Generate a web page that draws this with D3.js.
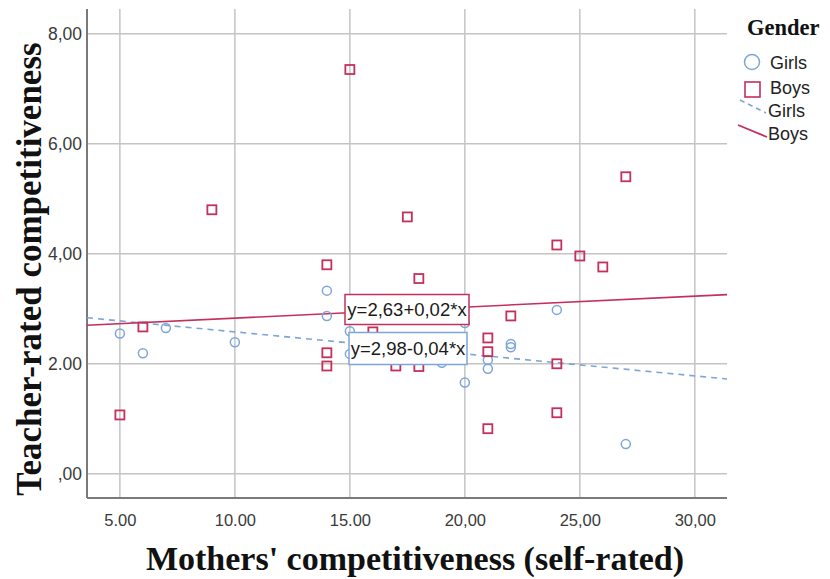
<!DOCTYPE html>
<html>
<head>
<meta charset="utf-8">
<script src="https://cdn.jsdelivr.net/npm/d3@7"></script>
<style>
  html, body { margin: 0; padding: 0; background: #fff; }
  svg { display: block; }
</style>
</head>
<body>
<svg id="chart" width="830" height="579"></svg>
<script>
// Mothers' self-rated competitiveness (x) vs teacher-rated child competitiveness (y)
const girlsX = [5, 6, 7, 10, 14, 14, 15, 15, 19, 20, 20, 21, 21, 22, 22, 24, 27];
const girlsY = [2.55, 2.19, 2.65, 2.39, 3.33, 2.87, 2.59, 2.18, 2.02, 1.66, 2.74, 2.07, 1.91, 2.36, 2.30, 2.98, 0.54];

const boysX = [15, 9, 17.5, 27, 14, 18, 24, 25, 26, 6, 5, 14, 14, 16, 17, 18, 21, 21, 21, 22, 24, 24];
const boysY = [7.35, 4.80, 4.67, 5.40, 3.80, 3.55, 4.16, 3.96, 3.76, 2.67, 1.07, 2.20, 1.96, 2.58, 1.96, 1.95, 2.47, 2.22, 0.82, 2.87, 2.00, 1.11];

// Linear fit lines per group: [intercept, slope]
const girlsFit = [2.98, -0.04];
const boysFit = [2.63, 0.02];
const girlsFitLabel = "y=2,98-0,04*x";
const boysFitLabel = "y=2,63+0,02*x";

const xTickValues = [5, 10, 15, 20, 25, 30];
const xTickLabels = ["5.00", "10.00", "15.00", "20,00", "25,00", "30,00"];
const yTickValues = [0, 2, 4, 6, 8];
const yTickLabels = [",00", "2.00", "4,00", "6,00", "8,00"];

const legendLabels = ["Girls", "Boys", "Girls", "Boys"];

const girlsColor = "#7da5d9";
const boysColor = "#c4305c";

const svg = d3.select("#chart");
const margin = { left: 87, right: 103, top: 9, bottom: 81 };
const W = 830, H = 579;

const x = d3.scaleLinear().domain([3.57, 31.4]).range([margin.left, W - margin.right]);
const y = d3.scaleLinear().domain([-0.44, 8.45]).range([H - margin.bottom, margin.top]);

const gridColor = "#c4c4c4";

// Grid lines
svg.append("g")
  .selectAll("line")
  .data(xTickValues)
  .join("line")
  .attr("x1", d => x(d)).attr("x2", d => x(d))
  .attr("y1", y.range()[1]).attr("y2", y.range()[0])
  .attr("stroke", gridColor).attr("stroke-width", 1.5);

svg.append("g")
  .selectAll("line")
  .data(yTickValues)
  .join("line")
  .attr("x1", x.range()[0]).attr("x2", x.range()[1])
  .attr("y1", d => y(d)).attr("y2", d => y(d))
  .attr("stroke", gridColor).attr("stroke-width", 1.5);

// Axes
const xAxis = svg.append("g")
  .attr("transform", `translate(0,${y.range()[0]})`)
  .call(d3.axisBottom(x).tickValues(xTickValues)
    .tickFormat((d, i) => xTickLabels[i]).tickSize(0).tickPadding(16));
const yAxis = svg.append("g")
  .attr("transform", `translate(${x.range()[0]},0)`)
  .call(d3.axisLeft(y).tickValues(yTickValues)
    .tickFormat((d, i) => yTickLabels[i]).tickSize(0).tickPadding(5));

[xAxis, yAxis].forEach(g => {
  g.select(".domain").attr("stroke", "#7a7a7a").attr("stroke-width", 2);
  g.selectAll("text")
    .attr("font-family", "'Liberation Sans', Arial, sans-serif")
    .attr("fill", "#3a3a3a");
});
xAxis.selectAll("text").attr("font-size", 16.5);
yAxis.selectAll("text").attr("font-size", 17.5);
xAxis.select(".domain").attr("d", `M${x.range()[0]},0H${x.range()[1]}`);
yAxis.select(".domain").attr("d", `M0,${y.range()[0]}V${y.range()[1]}`);

// Fit lines
const xs = x.domain();
const fitLine = (fit) => xs.map(v => [x(v), y(fit[0] + fit[1] * v)]);

svg.append("path")
  .attr("d", d3.line()(fitLine(girlsFit)))
  .attr("fill", "none").attr("stroke", girlsColor)
  .attr("stroke-width", 1.6).attr("stroke-dasharray", "6,5");

svg.append("path")
  .attr("d", d3.line()(fitLine(boysFit)))
  .attr("fill", "none").attr("stroke", boysColor)
  .attr("stroke-width", 1.6);

// Points
const girls = girlsX.map((v, i) => ({ x: v, y: girlsY[i] }));
const boys = boysX.map((v, i) => ({ x: v, y: boysY[i] }));

svg.append("g")
  .selectAll("circle")
  .data(girls)
  .join("circle")
  .attr("cx", d => x(d.x)).attr("cy", d => y(d.y))
  .attr("r", 4.5)
  .attr("fill", "none").attr("stroke", girlsColor).attr("stroke-width", 1.5);

const sq = 9;
svg.append("g")
  .selectAll("rect")
  .data(boys)
  .join("rect")
  .attr("x", d => x(d.x) - sq / 2).attr("y", d => y(d.y) - sq / 2)
  .attr("width", sq).attr("height", sq)
  .attr("fill", "none").attr("stroke", boysColor).attr("stroke-width", 1.8);

// Equation labels
function eqLabel(text, color, left, top, w, h) {
  const g = svg.append("g");
  g.append("rect")
    .attr("x", left).attr("y", top)
    .attr("width", w).attr("height", h)
    .attr("fill", "#fff").attr("stroke", color).attr("stroke-width", 1.5);
  g.append("text")
    .attr("x", left + w / 2).attr("y", top + h / 2 + 6.5)
    .attr("text-anchor", "middle")
    .attr("font-family", "'Liberation Sans', Arial, sans-serif")
    .attr("font-size", 18.5)
    .attr("fill", "#1a1a1a")
    .text(text);
}
eqLabel(boysFitLabel, boysColor, 345, 294.5, 124, 30);
eqLabel(girlsFitLabel, girlsColor, 349, 332.5, 118, 32);

// Legend
const lg = svg.append("g");
lg.append("text")
  .attr("x", 747).attr("y", 35)
  .attr("font-family", "'Liberation Serif', 'Times New Roman', serif")
  .attr("font-weight", "bold").attr("font-size", 22.5)
  .attr("fill", "#111")
  .text("Gender");

lg.append("circle").attr("cx", 752).attr("cy", 62).attr("r", 7.5)
  .attr("fill", "none").attr("stroke", girlsColor).attr("stroke-width", 1.5);
lg.append("rect").attr("x", 745).attr("y", 82).attr("width", 15).attr("height", 15)
  .attr("fill", "none").attr("stroke", boysColor).attr("stroke-width", 1.6);
lg.append("line").attr("x1", 740).attr("y1", 100).attr("x2", 766).attr("y2", 113)
  .attr("stroke", girlsColor).attr("stroke-width", 1.6).attr("stroke-dasharray", "5,4");
lg.append("line").attr("x1", 738).attr("y1", 125).attr("x2", 767).attr("y2", 137)
  .attr("stroke", boysColor).attr("stroke-width", 1.8);

const legendBaselines = [69, 94, 117, 140];
lg.selectAll("text.item")
  .data(legendLabels)
  .join("text")
  .attr("class", "item")
  .attr("x", (d, i) => i < 2 ? 770 : 768)
  .attr("y", (d, i) => legendBaselines[i])
  .attr("font-family", "'Liberation Sans', Arial, sans-serif")
  .attr("font-size", 18)
  .attr("fill", "#222")
  .text(d => d);

// Axis titles
svg.append("text")
  .attr("x", 415).attr("y", 570)
  .attr("text-anchor", "middle")
  .attr("font-family", "'Liberation Serif', 'Times New Roman', serif")
  .attr("font-weight", "bold").attr("font-size", 34)
  .attr("fill", "#111")
  .text("Mothers' competitiveness (self-rated)");

svg.append("text")
  .attr("transform", "translate(41,269) rotate(-90)")
  .attr("text-anchor", "middle")
  .attr("font-family", "'Liberation Serif', 'Times New Roman', serif")
  .attr("font-weight", "bold").attr("font-size", 35)
  .attr("fill", "#111")
  .text("Teacher-rated competitiveness");
</script>
</body>
</html>
